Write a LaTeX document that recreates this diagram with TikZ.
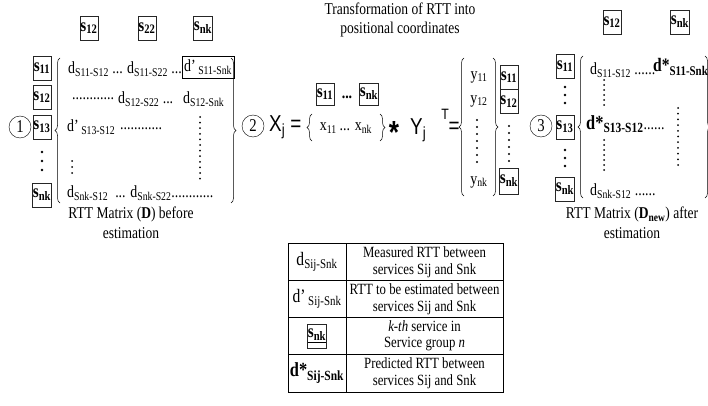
\documentclass[tikz,border=0pt]{standalone}
\usepackage{fontspec}
\setmainfont{Liberation Serif}[FakeStretch=0.82]
\newfontfamily\narrowsans{Liberation Sans}[FakeStretch=0.82]
\usetikzlibrary{decorations.pathreplacing,positioning}

\newcommand{\lo}[1]{\textsubscript{#1}}

\tikzset{
  svc/.style={draw=black!85, inner sep=0.5pt, minimum width=16pt, minimum height=24pt,
    font=\fontsize{18.5}{18.5}\selectfont\bfseries},
  ent/.style={inner sep=0pt, anchor=west, font=\fontsize{17}{17}\selectfont},
  num/.style={draw, circle, minimum size=22pt, inner sep=0pt, font=\fontsize{18}{18}\selectfont},
  brc/.style={decorate, decoration={brace, amplitude=5pt}, line width=0.5pt},
  capt/.style={align=center, inner sep=0pt, font=\fontsize{16.5}{19.5}\selectfont},
  vdot/.style={fill=black},
  eqn/.style={inner sep=0pt, font=\fontsize{23}{23}\narrowsans},
  cell/.style={align=center, inner sep=0pt, font=\fontsize{15.6}{16.5}\selectfont},
}

\begin{document}
\begin{tikzpicture}[x=1pt,y=-1pt]
  \useasboundingbox (0,0) rectangle (708,406);

  % ---- (1) RTT matrix before estimation
  \node[num] (one) at (20,127) {1};
  \node[svc] (hA12) at (89,28) {s\lo{12}};
  \node[svc] (hA22) at (147,28) {s\lo{22}};
  \node[svc] (hAnk) at (203,28) {s\lo{nk}};
  \node[svc] (cA11) at (42,68) {s\lo{11}};
  \node[svc] (cA12) at (42,97) {s\lo{12}};
  \node[svc] (cA13) at (42,127) {s\lo{13}};
  \node[svc] (cAnk) at (42,195) {s\lo{nk}};
  \foreach \y in {152,161,170} \fill[vdot] (42,\y) circle (1.4pt);

  \draw[brc] (60,203) -- (60,58);
  \draw[brc] (231,58) -- (231,203);

  \node[ent] (a11) at (68,69) {d\lo{S11-S12} ...};
  \node[ent] (a12) at (127,69) {d\lo{S11-S22} ...};
  \node[ent, draw, inner sep=2pt, minimum height=22pt] (a13) at (182,67) {d’\lo{ S11-Snk}};
  \node[ent] (a21) at (72,99) {............};
  \node[ent] (a22) at (118,99) {d\lo{S12-S22} ...};
  \node[ent] (a23) at (183,99) {d\lo{S12-Snk}};
  \node[ent] (a31) at (67,127) {d’\lo{ S13-S12}};
  \node[ent] (a32) at (120,129) {............};
  \node[ent] (a51) at (67,193) {d\lo{Snk-S12} \ ... d\lo{Snk-S22}............};
  \foreach \y in {161,167,173} \fill[vdot] (72,\y) circle (1pt);
  \foreach \i in {0,...,11} \fill[vdot] (200,117+5.6*\i) circle (1pt);

  \node[capt] (capA) at (131,223) {RTT Matrix (\textbf{D}) before\\estimation};

  % ---- (2) transformation into coordinates
  \node[capt] (title) at (400,20) {Transformation of RTT into\\positional coordinates};
  \node[num] (two) at (253,126) {2};
  \node[eqn, anchor=west] (xj) at (269,127) {X\lo{j} =};
  \node[svc, minimum height=22pt] (bx11) at (325,94) {s\lo{11}};
  \node[ent, anchor=center] (bxdots) at (347,97) {\textbf{...}};
  \node[svc, minimum height=22pt] (bxnk) at (369,94) {s\lo{nk}};
  \draw[brc] (312,141) -- (312,114);
  \draw[brc] (380,114) -- (380,141);
  \node[ent, anchor=center] (xrow) at (346,128) {x\lo{11}\,... x\lo{nk}};
  \node[inner sep=0pt, font=\fontsize{32}{32}\narrowsans\bfseries] (star) at (394,132) {*};
  \node[eqn, anchor=west] (yj) at (410,130) {Y\lo{j}};
  \node[inner sep=0pt, font=\fontsize{15}{15}\narrowsans] (yT) at (445,114) {T};
  \node[eqn] (yeq) at (454,128) {=};
  \draw[brc] (464,196) -- (464,58);
  \draw[brc] (493,58) -- (493,196);
  \node[ent, anchor=center] (y11) at (479,77) {y\lo{11}};
  \node[ent, anchor=center] (y12) at (479,101) {y\lo{12}};
  \node[ent, anchor=center] (ynk) at (479,182) {y\lo{nk}};
  \foreach \i in {0,...,6} \fill[vdot] (477,120+7*\i) circle (1.2pt);
  \node[svc, minimum height=24pt] (by11) at (509,77) {s\lo{11}};
  \node[svc, minimum height=24pt, below=0pt of by11] (by12) {s\lo{12}};
  \node[svc, minimum height=26pt] (bynk) at (509,181) {s\lo{nk}};
  \foreach \i in {0,...,5} \fill[vdot] (509,126+7*\i) circle (1.2pt);

  % ---- (3) RTT matrix after estimation
  \node[num] (three) at (541,126) {3};
  \node[svc] (hC12) at (612,22) {s\lo{12}};
  \node[svc] (hCnk) at (680,22) {s\lo{nk}};
  \node[svc] (cC11) at (565,66) {s\lo{11}};
  \node[svc] (cC13) at (565,127) {s\lo{13}};
  \node[svc] (cCnk) at (565,189) {s\lo{nk}};
  \foreach \y in {87,95,103} \fill[vdot] (565,\y) circle (1.4pt);
  \foreach \y in {150,158,166} \fill[vdot] (565,\y) circle (1.4pt);
  \draw[brc] (583,198) -- (583,56);
  \draw[brc] (705,56) -- (705,198);

  \node[ent] (c11) at (590,70) {d\lo{S11-S12} ......};
  \node[ent] (c12) at (653,67) {\fontsize{19}{19}\selectfont\textbf{d*}\lo{\textbf{S11-Snk}}};
  \node[ent] (c31) at (586,124) {\fontsize{20}{20}\selectfont\textbf{d*}\lo{\textbf{S13-S12}}\fontsize{17}{17}\selectfont......};
  \node[ent] (c51) at (590,191) {d\lo{Snk-S12} ......};
  \foreach \i in {0,...,5} \fill[vdot] (604,80+5*\i) circle (1pt);
  \foreach \i in {0,...,6} \fill[vdot] (604,140+5*\i) circle (1pt);
  \foreach \i in {0,...,10} \fill[vdot] (678,108+5.7*\i) circle (1pt);

  \node[capt] (capC) at (632,223) {RTT Matrix (\textbf{D\lo{new}}) after\\estimation};

  % ---- legend
  \draw[line width=0.6pt] (288,243) rectangle (503,392);
  \foreach \y in {280,317,354} \draw[line width=0.6pt] (288,\y) -- (503,\y);
  \draw[line width=0.6pt] (346,243) -- (346,392);

  \node[cell] (k1) at (317,262) {\fontsize{19}{19}\selectfont d\lo{Sij-Snk}};
  \node[cell] (v1) at (424.5,262) {Measured RTT between\\services Sij and Snk};
  \node[cell] (k2) at (317,299) {\fontsize{19}{19}\selectfont d’\lo{ Sij-Snk}};
  \node[cell] (v2) at (424.5,299) {RTT to be estimated between\\services Sij and Snk};
  \node[svc] (k3) at (317,336) {\underline{s\lo{nk}}};
  \node[cell] (v3) at (424.5,336) {\textit{k-th} service in\\Service group \textit{n}};
  \node[cell] (k4) at (317,373) {\fontsize{20}{20}\selectfont\textbf{d*}\lo{\textbf{Sij-Snk}}};
  \node[cell] (v4) at (424.5,373) {Predicted RTT between\\services Sij and Snk};
\end{tikzpicture}
\end{document}
